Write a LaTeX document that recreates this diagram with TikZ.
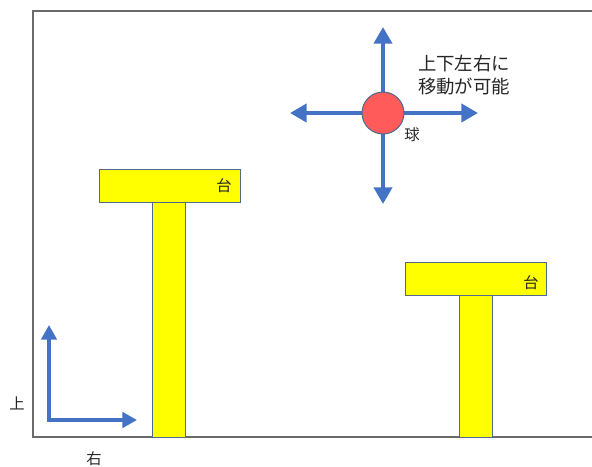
\documentclass[tikz,border=0pt]{standalone}
\usepackage{fontspec}
\setmainfont{Noto Sans CJK JP}
\usetikzlibrary{arrows.meta}
\definecolor{arrowblue}{HTML}{4472C4}
\definecolor{ballred}{HTML}{FF5B5B}
\definecolor{edgeblue}{HTML}{4F6A8A}
\definecolor{framegray}{HTML}{6B6B6B}
\definecolor{blockyellow}{HTML}{FFFF00}
\tikzset{
  px/.style={x=0.75pt,y=-0.75pt},
  block/.style={draw=edgeblue,line width=0.75pt,fill=blockyellow,inner sep=0pt,minimum width=#1*0.75pt},
  movearrow/.style={draw=arrowblue,line width=3pt,-{Triangle[length=12.5pt,width=13.5pt]}},
  axisarrow/.style={draw=arrowblue,line width=3pt,-{Triangle[length=11pt,width=11.5pt]}},
  lbl/.style={font=\fontsize{11.5pt}{14pt}\selectfont,inner sep=0pt,text=black!85},
  biglbl/.style={font=\fontsize{13.8pt}{17.5pt}\selectfont,inner sep=0pt,text=black!85,align=center}
}
\begin{document}
\begin{tikzpicture}[px]
\useasboundingbox (0,0) rectangle (592,467);
% frame
\draw[framegray,line width=2pt] (592,11) -- (33,11) -- (33,437) -- (592,437);
% left T
\node[block=33,minimum height=235*0.75pt,anchor=north west] (pillarL) at (152,202) {};
\node[block=141,minimum height=33*0.75pt,anchor=north west] (platL) at (99,169) {};
\node[lbl] (labL) at (224,186) {台};
% right T
\node[block=33,minimum height=142*0.75pt,anchor=north west] (pillarR) at (459,295) {};
\node[block=141,minimum height=33*0.75pt,anchor=north west] (platR) at (405,262) {};
\node[lbl] (labR) at (531,283) {台};
% ball and arrows
\coordinate (tipU) at (383,27);
\coordinate (tipD) at (383,204);
\coordinate (tipL) at (290,113);
\coordinate (tipR) at (478,113);
\draw[movearrow] (383,113) -- (tipU);
\draw[movearrow] (383,113) -- (tipD);
\draw[movearrow] (383,113) -- (tipL);
\draw[movearrow] (383,113) -- (tipR);
\node[circle,draw=edgeblue,line width=0.75pt,fill=ballred,minimum size=42*0.75pt,inner sep=0pt] (ball) at (383,113) {};
\node[lbl] (ballLab) at (412,135) {球};
\node[biglbl] (move) at (464,75) {上下左右に\\移動が可能};
% axis arrows
\coordinate (origin) at (49,420);
\coordinate (upTip) at (49,325);
\coordinate (rightTip) at (137,420);
\draw[axisarrow] ([yshift=1.5pt]origin) -- (upTip);
\draw[axisarrow] ([xshift=-1.5pt]origin) -- (rightTip);
\node[lbl] (upLab) at (17,403) {上};
\node[lbl] (rightLab) at (94,459) {右};
\end{tikzpicture}
\end{document}
